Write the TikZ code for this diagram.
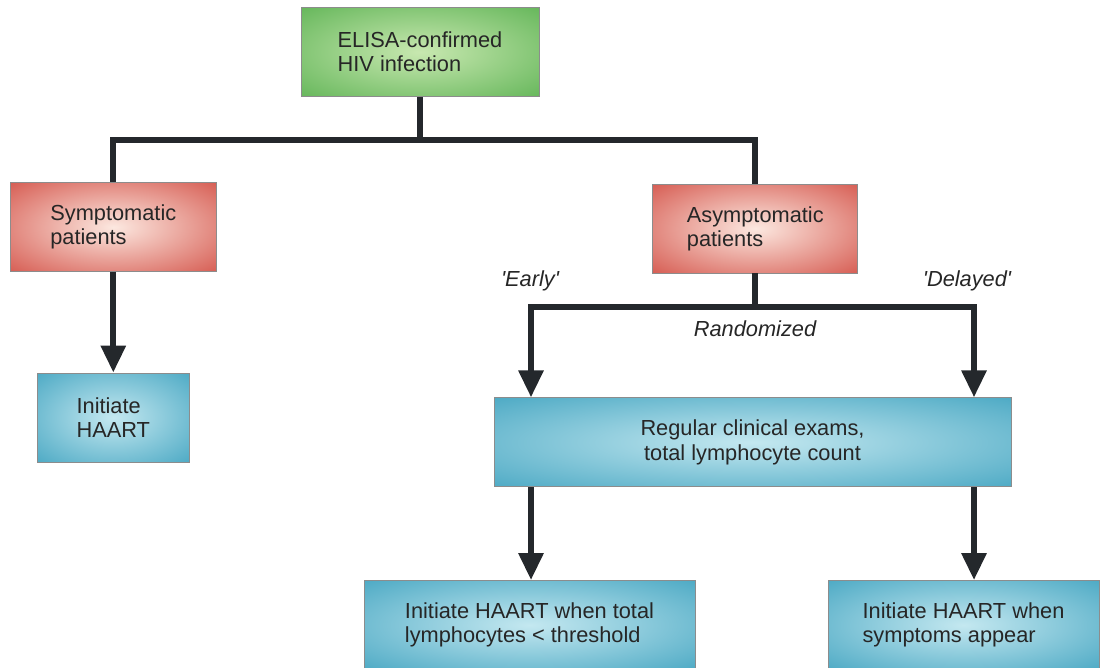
\documentclass[tikz,border=0pt]{standalone}
\usepackage{fontspec}
\setmainfont{Liberation Sans}
\usetikzlibrary{arrows.meta}

\definecolor{verdeborde}{RGB}{96,180,86}
\definecolor{verdecentro}{RGB}{200,232,176}
\definecolor{rojoborde}{RGB}{212,84,74}
\definecolor{rojocentro}{RGB}{252,232,224}
\definecolor{azulborde}{RGB}{70,166,194}
\definecolor{azulcentro}{RGB}{196,232,240}
\definecolor{linea}{RGB}{36,40,44}

% Sombreado suave hasta los bordes
\pgfdeclareradialshading{brilloverde}{\pgfpoint{0bp}{0bp}}%
  {color(0bp)=(verdecentro); color(38bp)=(verdeborde); color(50bp)=(verdeborde)}
\pgfdeclareradialshading{brillorojo}{\pgfpoint{0bp}{0bp}}%
  {color(0bp)=(rojocentro); color(38bp)=(rojoborde); color(50bp)=(rojoborde)}
\pgfdeclareradialshading{brilloazul}{\pgfpoint{0bp}{0bp}}%
  {color(0bp)=(azulcentro); color(38bp)=(azulborde); color(50bp)=(azulborde)}

\tikzset{
  caja/.style={draw=black!45, line width=0.5pt,
    minimum height=1.78cm, align=left, text=black!85, inner sep=0pt,
    font=\fontsize{12.4}{13.8}\selectfont},
  verde/.style={caja, shading=brilloverde},
  rojo/.style={caja, shading=brillorojo},
  azul/.style={caja, shading=brilloazul},
  conector/.style={draw=linea, line width=3.4pt},
  flecha/.style={conector, -{Triangle[width=0.48cm,length=0.54cm]}},
  etiqueta/.style={text=black!85, font=\fontsize{12.4}{13.8}\selectfont\itshape}
}

\begin{document}
\begin{tikzpicture}[x=0.02cm, y=-0.02cm]
    \useasboundingbox (0,0) rectangle (1101,667);
    \clip (0,0) rectangle (1101,667);

    % Cajas
    \node[verde, minimum width=4.76cm] (elisa) at (420,52) {ELISA-confirmed\\HIV infection};
    \node[rojo, minimum width=4.13cm] (sint) at (113.3,227) {Symptomatic\\patients};
    \node[rojo, minimum width=4.1cm] (asint) at (755.3,228.5) {Asymptomatic\\patients};
    \node[azul, minimum width=3.04cm] (haart) at (113.3,417.5) {Initiate\\HAART};
    \node[azul, minimum width=10.34cm, align=center] (regular) at (752.5,442.3)
      {Regular clinical exams,\\total lymphocyte count};
    \node[azul, minimum width=6.62cm] (umbral) at (529.5,625)
      {Initiate HAART when total\\lymphocytes < threshold};
    \node[azul, minimum width=5.42cm] (sintomas) at (963.5,625)
      {Initiate HAART when\\symptoms appear};

    % Ramas
    \draw[conector] (elisa.south) -- ++(0,43) coordinate (nudo) -| (sint.north);
    \draw[conector] (nudo) -| (asint.north);
    \draw[flecha] (sint.south) -- (haart.north);

    \coordinate (temprano) at (531,307);
    \coordinate (tardio) at (974,307);
    \draw[conector] (asint.south) -- (asint.south |- temprano);
    \draw[conector, line cap=rect] (temprano) -- (tardio);

    % Flechas hacia abajo
    \foreach \r/\c in {temprano/umbral, tardio/sintomas} {
      \draw[flecha] (\r) -- (\r |- regular.north);
      \draw[flecha] (\r |- regular.south) -- (\r |- \c.north);
    }

    % Etiquetas
    \node[etiqueta] (early) at (530,281) {\textquotesingle Early\textquotesingle};
    \node[etiqueta] (delayed) at (967,281) {\textquotesingle Delayed\textquotesingle};
    \node[etiqueta] (random) at (755,329) {Randomized};

  \end{tikzpicture}
\end{document}
